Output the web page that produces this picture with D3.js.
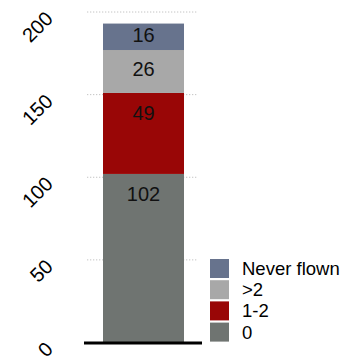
<!DOCTYPE html>
<html>
<head>
<meta charset="utf-8">
<script src="https://cdn.jsdelivr.net/npm/d3@7"></script>
<style>
  html, body { margin: 0; padding: 0; background: #fff; }
  svg { display: block; font-family: "Liberation Sans", Arial, Helvetica, sans-serif; }
</style>
</head>
<body>
<svg id="chart" width="351" height="358"></svg>
<script>
// Stack order, bottom to top
const categories = ["0", "1-2", ">2", "Never flown"];
const counts = [102, 49, 26, 16];
const colors = ["#6f7471", "#990606", "#a8a8a8", "#67738d"];
const yTicks = [0, 50, 100, 150, 200];
const groups = ["all"];

const svg = d3.select("#chart");

const y = d3.scaleLinear().domain([0, 200]).range([342.5, 12]);
const x = d3.scaleBand().domain(groups).range([103, 184]).padding(0);

// Stacked segments
let acc = 0;
const segments = categories.map((c, i) => {
  const s = { key: c, value: counts[i], y0: acc, y1: acc + counts[i], color: colors[i] };
  acc += counts[i];
  return s;
});

// Dotted gridlines
svg.append("g").selectAll("line")
  .data(yTicks.filter(t => t > 0))
  .join("line")
  .attr("x1", 87).attr("x2", 197)
  .attr("y1", d => y(d)).attr("y2", d => y(d))
  .attr("stroke", "#c4c4c4")
  .attr("stroke-width", 1)
  .attr("stroke-dasharray", "1.3,1.7");

// Bar
svg.append("g").selectAll("rect")
  .data(segments)
  .join("rect")
  .attr("x", x("all"))
  .attr("width", x.bandwidth())
  .attr("y", d => y(d.y1))
  .attr("height", d => y(d.y0) - y(d.y1))
  .attr("fill", d => d.color);

// Segment value labels
svg.append("g").selectAll("text")
  .data(segments)
  .join("text")
  .attr("x", x("all") + x.bandwidth() / 2)
  .attr("y", d => {
    const top = y(d.y1), mid = (y(d.y0) + y(d.y1)) / 2;
    return Math.min(mid - 2, top + 20);
  })
  .attr("dy", "0.35em")
  .attr("text-anchor", "middle")
  .attr("font-size", 20)
  .attr("fill", "#111")
  .text(d => d.value);

// Baseline
svg.append("line")
  .attr("x1", 84).attr("x2", 202)
  .attr("y1", y(0) + 0.5).attr("y2", y(0) + 0.5)
  .attr("stroke", "#000")
  .attr("stroke-width", 3);

// Rotated y tick labels
svg.append("g").selectAll("text")
  .data(yTicks)
  .join("text")
  .attr("transform", d => `translate(54,${y(d) + 8}) rotate(-45)`)
  .attr("text-anchor", "end")
  .attr("font-size", 20)
  .attr("fill", "#000")
  .text(d => d);

// Legend, top entry is the top of the stack
const legendItems = segments.slice().reverse();
const lg = svg.append("g").selectAll("g")
  .data(legendItems)
  .join("g")
  .attr("transform", (d, i) => `translate(210,${259 + i * 21.2})`);
lg.append("rect")
  .attr("width", 19).attr("height", 19)
  .attr("fill", d => d.color);
lg.append("text")
  .attr("x", 32).attr("y", 9.5)
  .attr("dy", "0.35em")
  .attr("font-size", 18.5)
  .attr("fill", "#000")
  .text(d => d.key);
</script>
</body>
</html>
